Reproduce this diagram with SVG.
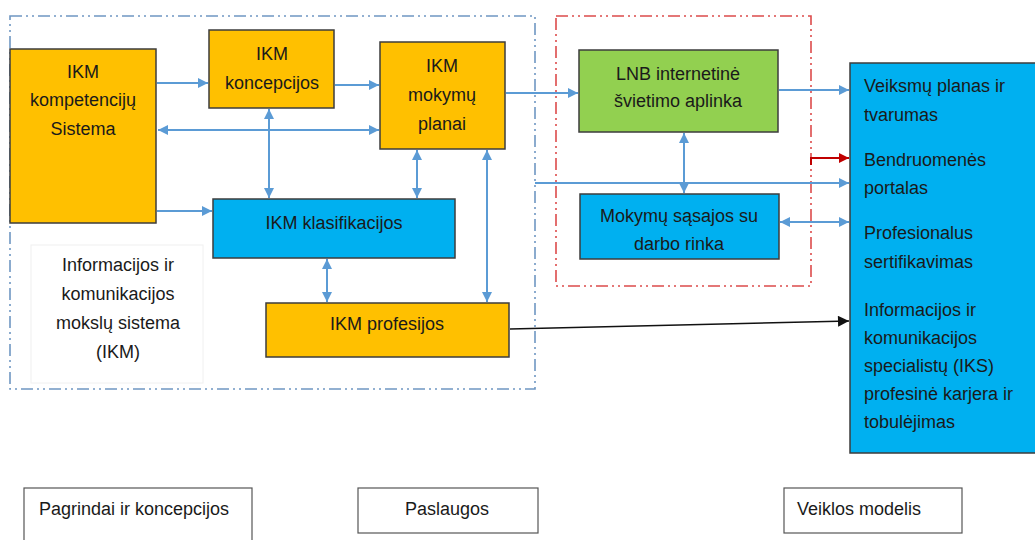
<svg xmlns="http://www.w3.org/2000/svg" width="1035" height="540" viewBox="0 0 1035 540">
<style>
text{font-family:"Liberation Sans",Arial,sans-serif;font-size:18px;fill:#1a1a1a}
.c{text-anchor:middle}
.box{stroke:#3d3d3d;stroke-width:1.5}
.or{fill:#FFC000}.bl{fill:#00B0F0}.gr{fill:#92D050}
.wb{fill:#fff;stroke:#555;stroke-width:1.2}
.frame{fill:none;stroke-width:1.6;stroke-dasharray:12 4 2 4 2 4}
.con{fill:none;stroke:#5B9BD5;stroke-width:2}
</style>
<defs>
<marker id="ab" viewBox="0 0 10 10" refX="10" refY="5" markerWidth="11" markerHeight="10" markerUnits="userSpaceOnUse" orient="auto-start-reverse"><path d="M0,0L10,5L0,10z" fill="#5B9BD5"/></marker>
<marker id="ar" viewBox="0 0 10 10" refX="10" refY="5" markerWidth="11" markerHeight="10" markerUnits="userSpaceOnUse" orient="auto"><path d="M0,0L10,5L0,10z" fill="#C00000"/></marker>
<marker id="ak" viewBox="0 0 10 10" refX="10" refY="5" markerWidth="12" markerHeight="11" markerUnits="userSpaceOnUse" orient="auto"><path d="M0,0L10,5L0,10z" fill="#111"/></marker>
</defs>
<rect width="1035" height="540" fill="#fff"/>
<g id="frames">
<rect class="frame" x="10" y="16" width="525" height="373" stroke="#6F97C2"/>
<rect class="frame" x="556" y="16" width="255" height="270" stroke="#DC4B4B"/>
</g>
<g id="info-label">
<rect x="31" y="245" width="172" height="138" fill="#fff" stroke="#f0f0f0" stroke-width="1"/>
<text class="c" x="118" y="271">Informacijos ir</text>
<text class="c" x="118" y="300">komunikacijos</text>
<text class="c" x="118" y="329">mokslų sistema</text>
<text class="c" x="118" y="358">(IKM)</text>
</g>
<g id="n-kompetenciju">
<rect class="box or" x="10" y="49" width="146" height="174"/>
<text class="c" x="83" y="78">IKM</text>
<text class="c" x="83" y="106">kompetencijų</text>
<text class="c" x="83" y="135">Sistema</text>
</g>
<g id="n-koncepcijos">
<rect class="box or" x="209" y="30" width="125" height="78"/>
<text class="c" x="272" y="60">IKM</text>
<text class="c" x="272" y="89">koncepcijos</text>
</g>
<g id="n-planai">
<rect class="box or" x="380" y="42" width="125" height="107"/>
<text class="c" x="442" y="72">IKM</text>
<text class="c" x="442" y="101">mokymų</text>
<text class="c" x="442" y="130">planai</text>
</g>
<g id="n-klasifikacijos">
<rect class="box bl" x="213" y="199" width="242" height="59"/>
<text class="c" x="334" y="229">IKM klasifikacijos</text>
</g>
<g id="n-profesijos">
<rect class="box or" x="266" y="303" width="243" height="54"/>
<text class="c" x="387" y="330">IKM profesijos</text>
</g>
<g id="n-lnb">
<rect class="box gr" x="579" y="50" width="199" height="82"/>
<text class="c" x="678" y="80">LNB internetinė</text>
<text class="c" x="678" y="107">švietimo aplinka</text>
</g>
<g id="n-sasajos">
<rect class="box bl" x="580" y="194" width="199" height="65"/>
<text class="c" x="679" y="222">Mokymų sąsajos su</text>
<text class="c" x="679" y="250">darbo rinka</text>
</g>
<g id="n-veiklos">
<rect class="box bl" x="850" y="63" width="200" height="390"/>
<text x="864" y="92">Veiksmų planas ir</text>
<text x="864" y="121">tvarumas</text>
<text x="864" y="166">Bendruomenės</text>
<text x="864" y="194">portalas</text>
<text x="864" y="239">Profesionalus</text>
<text x="864" y="268">sertifikavimas</text>
<text x="864" y="316">Informacijos ir</text>
<text x="864" y="344">komunikacijos</text>
<text x="864" y="372">specialistų (IKS)</text>
<text x="864" y="400">profesinė karjera ir</text>
<text x="864" y="428">tobulėjimas</text>
</g>
<g id="legend-pagrindai">
<rect class="wb" x="24" y="488" width="228" height="60"/>
<text x="39" y="515">Pagrindai ir koncepcijos</text>
</g>
<g id="legend-paslaugos">
<rect class="wb" x="358" y="488" width="180" height="45"/>
<text class="c" x="447" y="515">Paslaugos</text>
</g>
<g id="legend-veiklos">
<rect class="wb" x="784" y="488" width="178" height="45"/>
<text x="797" y="515">Veiklos modelis</text>
</g>
<g id="connectors">
<line class="con" x1="157" y1="83" x2="208" y2="83" marker-end="url(#ab)"/>
<line class="con" x1="335" y1="85" x2="379" y2="85" marker-end="url(#ab)"/>
<line class="con" x1="158" y1="130" x2="379" y2="130" marker-start="url(#ab)" marker-end="url(#ab)"/>
<line class="con" x1="157" y1="211" x2="212" y2="211" marker-end="url(#ab)"/>
<line class="con" x1="269" y1="109" x2="269" y2="198" marker-start="url(#ab)" marker-end="url(#ab)"/>
<line class="con" x1="417" y1="150" x2="417" y2="198" marker-start="url(#ab)" marker-end="url(#ab)"/>
<line class="con" x1="487" y1="150" x2="487" y2="302" marker-start="url(#ab)" marker-end="url(#ab)"/>
<line class="con" x1="327" y1="259" x2="327" y2="302" marker-start="url(#ab)" marker-end="url(#ab)"/>
<line class="con" x1="506" y1="93" x2="578" y2="93" marker-end="url(#ab)"/>
<line class="con" x1="779" y1="90" x2="849" y2="90" marker-end="url(#ab)"/>
<line class="con" x1="535" y1="183" x2="849" y2="183" marker-end="url(#ab)"/>
<line class="con" x1="684" y1="133" x2="684" y2="193" marker-start="url(#ab)" marker-end="url(#ab)"/>
<line class="con" x1="780" y1="222" x2="849" y2="222" marker-start="url(#ab)" marker-end="url(#ab)"/>
<path d="M811,165V158H849" fill="none" stroke="#C00000" stroke-width="2" marker-end="url(#ar)"/>
<line x1="510" y1="329" x2="849" y2="321" stroke="#111" stroke-width="1.5" marker-end="url(#ak)"/>
</g>
</svg>
